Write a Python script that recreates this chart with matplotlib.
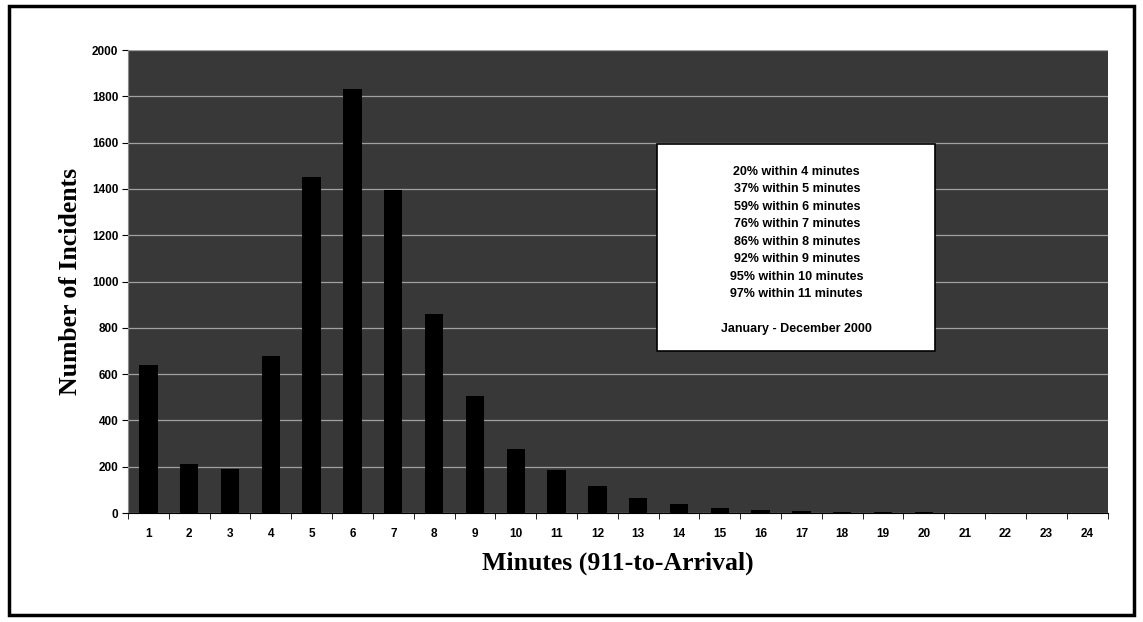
import matplotlib.pyplot as plt
from matplotlib.patches import Rectangle

# response time distribution, Jan - Dec 2000
minutes = list(range(1, 25))
incidents = [640, 210, 190, 680, 1450, 1830, 1395, 860, 505, 275, 185, 115,
             65, 40, 22, 13, 8, 5, 4, 3, 2, 2, 1, 1]
y_ticks = [0, 200, 400, 600, 800, 1000, 1200, 1400, 1600, 1800, 2000]
box_lines = ['20% within 4 minutes', '37% within 5 minutes', '59% within 6 minutes',
             '76% within 7 minutes', '86% within 8 minutes', '92% within 9 minutes',
             '95% within 10 minutes', '97% within 11 minutes']
period = 'January - December 2000'

sans = ['Liberation Sans', 'DejaVu Sans']
serif = ['Liberation Serif', 'DejaVu Serif']

fig = plt.figure(figsize=(11.43, 6.22), dpi=100)
# outer frame
fig.patches.append(Rectangle((0.008, 0.012), 0.984, 0.978, transform=fig.transFigure,
                             fill=False, ec='black', lw=2.5))

ax = fig.add_axes([0.112, 0.1752, 0.857, 0.7444])
ax.set_facecolor('#383838')
ax.bar(minutes, incidents, width=0.45, color='black', zorder=3)

ax.set_xlim(0.5, 24.5)
ax.set_ylim(0, 2000)
ax.set_yticks(y_ticks)
ax.set_yticklabels([str(v) for v in y_ticks], family=sans, fontsize=8.5, fontweight='bold')
ax.set_xticks(minutes)
ax.set_xticklabels([str(m) for m in minutes], family=sans, fontsize=8.5, fontweight='bold')
ax.tick_params(axis='x', length=0, pad=11)
ax.set_xticks([m + 0.5 for m in range(0, 25)], minor=True)
ax.tick_params(axis='x', which='minor', length=4, direction='out')
ax.tick_params(axis='y', length=4, direction='out', pad=3)
ax.yaxis.grid(True, color='#a0a0a0', lw=0.9, zorder=1)
for side in ['top', 'right']:
    ax.spines[side].set_visible(False)
ax.spines['left'].set_color('#888888')
ax.spines['bottom'].set_color('black')

ax.set_ylabel('Number of Incidents', family=serif, fontsize=18.5, fontweight='bold', labelpad=7)
ax.set_xlabel('Minutes (911-to-Arrival)', family=serif, fontsize=18.5, fontweight='bold', labelpad=8)

# note box
ax.add_patch(Rectangle((0.5398, 0.350), 0.2837, 0.797 - 0.350, transform=ax.transAxes,
                       facecolor='white', edgecolor='black', lw=1.2, zorder=5))
y0 = 0.7365
for i, line in enumerate(box_lines):
    ax.text(0.6827, y0 - i * 0.0377, line, transform=ax.transAxes, ha='center', va='center',
            family=sans, fontsize=9, fontweight='bold', zorder=6)
ax.text(0.6827, 0.397, period, transform=ax.transAxes, ha='center', va='center',
        family=sans, fontsize=9, fontweight='bold', zorder=6)

fig.savefig('out.png', dpi=100)
